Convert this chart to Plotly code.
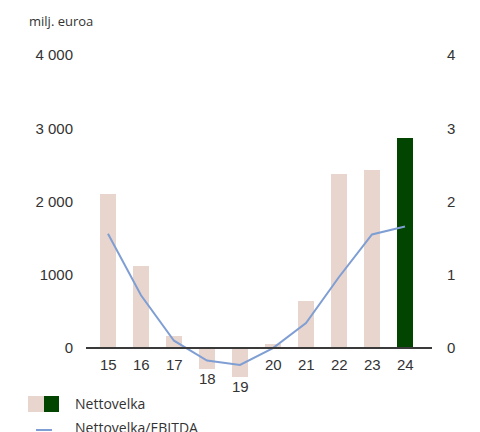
import plotly.graph_objects as go

# Data
years = [15, 16, 17, 18, 19, 20, 21, 22, 23, 24]
year_labels = ["15", "16", "17", "18", "19", "20", "21", "22", "23", "24"]
net_debt = [2100, 1120, 170, -290, -390, 55, 645, 2375, 2430, 2865]
net_debt_ebitda = [1.56, 0.72, 0.10, -0.17, -0.23, 0.0, 0.34, 0.97, 1.55, 1.66]
left_ticks = [0, 1000, 2000, 3000, 4000]
left_tick_text = ["0", "1000", "2 000", "3 000", "4 000"]
right_ticks = [0, 1, 2, 3, 4]

BAR_PINK = '#E8D5CE'
BAR_GREEN = '#014501'
LINE_BLUE = '#7F9ED3'
TEXT = '#333333'
NUM_FONT = "Liberation Sans, Arial, sans-serif"
TXT_FONT = "Open Sans, Lato, sans-serif"

# the page adds an 8px body margin, so the figure is laid out 8px up/left
OFF = 8
W, H = 480, 432
L, R, T, B = 88 - OFF, 48 + OFF, 55 - OFF, 40 + OFF


def px_x(p):
    # page pixel -> paper x
    return (p - OFF - L) / (W - L - R)


def px_y(p):
    # page pixel -> paper y
    return (H - B - (p - OFF)) / (H - T - B)


bar_colors = [BAR_GREEN if y == years[-1] else BAR_PINK for y in years]

fig = go.Figure()

fig.add_trace(go.Bar(
    x=years, y=net_debt, name='Nettovelka',
    marker=dict(color=bar_colors, line=dict(width=0)),
    width=0.485, showlegend=False, yaxis='y'
))

fig.add_trace(go.Scatter(
    x=years, y=net_debt_ebitda, name='Nettovelka/EBITDA',
    mode='lines', line=dict(color=LINE_BLUE, width=2),
    showlegend=False, yaxis='y2'
))

# x labels sit under the zero line, or under the bar when it is negative
annotations = []
for yr, lab, v in zip(years, year_labels, net_debt):
    annotations.append(dict(
        x=yr, y=min(0, v), xref='x', yref='y', text=lab, showarrow=False,
        yanchor='top', yshift=-6 if v >= 0 else 1,
        font=dict(family=NUM_FONT, size=15, color=TEXT)
    ))

annotations.append(dict(
    x=px_x(27), y=px_y(21), xref='paper', yref='paper', text='milj. euroa',
    showarrow=False, xanchor='left', yanchor='middle',
    font=dict(family=TXT_FONT, size=13, color=TEXT)
))
annotations.append(dict(
    x=px_x(73), y=px_y(404), xref='paper', yref='paper', text='Nettovelka',
    showarrow=False, xanchor='left', yanchor='middle',
    font=dict(family=TXT_FONT, size=14, color=TEXT)
))
annotations.append(dict(
    x=px_x(73), y=px_y(428), xref='paper', yref='paper', text='Nettovelka/EBITDA',
    showarrow=False, xanchor='left', yanchor='middle',
    font=dict(family=TXT_FONT, size=14, color=TEXT)
))

shapes = [
    dict(type='line', xref='paper', yref='y', x0=px_x(86), x1=1, y0=0, y1=0,
         line=dict(color='#3a3a3a', width=2)),
    dict(type='rect', xref='paper', yref='paper', x0=px_x(28), x1=px_x(44),
         y0=px_y(412), y1=px_y(396), fillcolor=BAR_PINK, line=dict(width=0)),
    dict(type='rect', xref='paper', yref='paper', x0=px_x(44), x1=px_x(59),
         y0=px_y(412), y1=px_y(396), fillcolor=BAR_GREEN, line=dict(width=0)),
    dict(type='line', xref='paper', yref='paper', x0=px_x(36), x1=px_x(52),
         y0=px_y(430), y1=px_y(430), line=dict(color=LINE_BLUE, width=2)),
]

fig.update_layout(
    width=W, height=H,
    margin=dict(l=L, r=R, t=T, b=B),
    paper_bgcolor='white', plot_bgcolor='white',
    showlegend=False,
    bargap=0,
    xaxis=dict(range=[14.394, 24.818], showticklabels=False, showgrid=False,
               zeroline=False, showline=False, ticks=''),
    yaxis=dict(range=[-600, 4000], tickvals=left_ticks, ticktext=left_tick_text,
               showgrid=False, zeroline=False, showline=False, ticks='',
               ticklabelstandoff=14,
               tickfont=dict(family=NUM_FONT, size=15, color=TEXT)),
    yaxis2=dict(range=[-0.6, 4], tickvals=right_ticks, overlaying='y', side='right',
                showgrid=False, zeroline=False, showline=False, ticks='',
                ticklabelstandoff=14,
                tickfont=dict(family=NUM_FONT, size=15, color=TEXT)),
    shapes=shapes,
    annotations=annotations,
)

fig.write_html("out.html")
